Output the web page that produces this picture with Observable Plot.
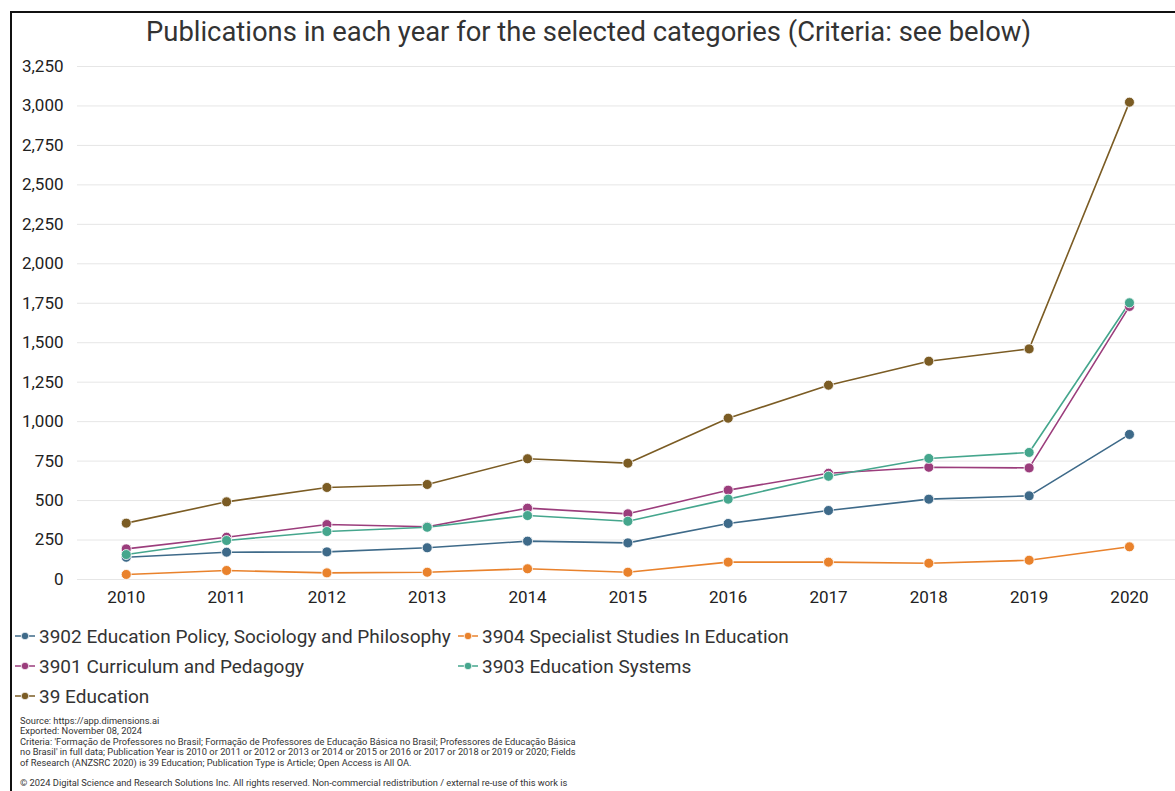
<!DOCTYPE html>
<html>
<head>
<meta charset="utf-8">
<script src="https://cdn.jsdelivr.net/npm/d3@7"></script>
<script src="https://cdn.jsdelivr.net/npm/@observablehq/plot@0.6"></script>
<style>
  html, body { margin: 0; padding: 0; background: #fff; }
  body { width: 1175px; height: 791px; position: relative; overflow: hidden; font-family: Roboto, "Noto Sans", sans-serif; }
  #frame { position: absolute; left: 10px; top: 11px; width: 1300px; height: 900px; border-left: 2px solid #111; border-top: 2px solid #111; }
  #title { position: absolute; top: 16px; left: 0; width: 1177px; text-align: center; font-size: 27.4px; line-height: 32px; color: #333; }
  #chart { position: absolute; top: 50px; left: 0; }
  #legend { position: absolute; top: 624px; left: 14px; font-size: 19px; color: #333; }
  .item { position: absolute; white-space: nowrap; display: flex; align-items: center; height: 24px; }
  .item svg { margin-right: 3px; }
  #footer { position: absolute; top: 716px; left: 20px; font-size: 9.3px; line-height: 10.4px; color: #333; white-space: pre; }
  #footer div { height: 10.4px; }
</style>
</head>
<body>
<div id="frame"></div>
<div id="title">Publications in each year for the selected categories (Criteria: see below)</div>
<div id="chart"></div>
<div id="legend"></div>
<div id="footer"></div>
<script>
const years = [2010, 2011, 2012, 2013, 2014, 2015, 2016, 2017, 2018, 2019, 2020];
const seriesNames = [
  "3902 Education Policy, Sociology and Philosophy",
  "3904 Specialist Studies In Education",
  "3901 Curriculum and Pedagogy",
  "3903 Education Systems",
  "39 Education"
];
const seriesColors = ["#3e6a89", "#e9822c", "#9b3d7c", "#45a68d", "#7b5c24"];
const policy     = [141, 173, 175, 201, 243, 232, 355, 437, 509, 530, 919];
const specialist = [32, 57, 42, 46, 68, 46, 110, 110, 103, 122, 207];
const curriculum = [194, 268, 348, 334, 452, 416, 566, 673, 711, 707, 1730];
const systems    = [158, 247, 304, 331, 405, 369, 509, 654, 767, 805, 1753];
const education  = [357, 492, 583, 602, 765, 737, 1022, 1231, 1383, 1461, 3024];
const yTicks = [0, 250, 500, 750, 1000, 1250, 1500, 1750, 2000, 2250, 2500, 2750, 3000, 3250];
const footerLines = [
  "Source: https://app.dimensions.ai",
  "Exported: November 08, 2024",
  "Criteria: 'Formação de Professores no Brasil; Formação de Professores de Educação Básica no Brasil; Professores de Educação Básica",
  "no Brasil' in full data; Publication Year is 2010 or 2011 or 2012 or 2013 or 2014 or 2015 or 2016 or 2017 or 2018 or 2019 or 2020; Fields",
  "of Research (ANZSRC 2020) is 39 Education; Publication Type is Article; Open Access is All OA.",
  "",
  "© 2024 Digital Science and Research Solutions Inc. All rights reserved. Non-commercial redistribution / external re-use of this work is"
];

const allValues = [policy, specialist, curriculum, systems, education];
const rows = [];
seriesNames.forEach((s, i) => years.forEach((y, j) => rows.push({series: s, year: y, value: allValues[i][j]})));

const chart = Plot.plot({
  width: 1175,
  height: 570,
  marginTop: 16,
  marginBottom: 41,
  marginLeft: 77,
  marginRight: 0,
  style: {fontFamily: "Roboto, sans-serif", fontSize: "17px", color: "#222", background: "transparent", overflow: "visible"},
  x: {type: "linear", domain: [years[0] - 0.486, years[years.length - 1] + 0.459]},
  y: {domain: [0, 3250]},
  color: {domain: seriesNames, range: seriesColors},
  marks: [
    Plot.gridY(yTicks, {stroke: "#e6e6e6", strokeOpacity: 1, strokeWidth: 1}),
    Plot.axisY({ticks: yTicks, tickSize: 0, tickPadding: 14, tickFormat: d3.format(","), label: null}),
    Plot.axisX({ticks: years, tickSize: 0, tickPadding: 11, tickFormat: d => String(d), label: null}),
    Plot.line(rows, {x: "year", y: "value", z: "series", stroke: "white", strokeWidth: 3.5}),
    Plot.line(rows, {x: "year", y: "value", z: "series", stroke: "series", strokeWidth: 1.6}),
    Plot.dot(rows, {x: "year", y: "value", fill: "series", r: 5, stroke: "white", strokeWidth: 0.8})
  ]
});
document.getElementById("chart").appendChild(chart);

// Legend
const legend = document.getElementById("legend");
const legendPos = [[0, 0], [443, 0], [0, 30], [443, 30], [0, 60]];
seriesNames.forEach((s, i) => {
  const div = document.createElement("div");
  div.className = "item";
  div.style.left = legendPos[i][0] + "px";
  div.style.top = legendPos[i][1] + "px";
  const c = seriesColors[i];
  div.innerHTML = `<svg width="22" height="12"><line x1="1" x2="21" y1="6" y2="6" stroke="${c}" stroke-width="1.5"/><circle cx="11" cy="6" r="3.8" fill="${c}" stroke="white" stroke-width="0.8"/></svg><span>${s}</span>`;
  legend.appendChild(div);
});

const footer = document.getElementById("footer");
footerLines.forEach(t => {
  const d = document.createElement("div");
  d.textContent = t;
  footer.appendChild(d);
});
</script>
</body>
</html>
